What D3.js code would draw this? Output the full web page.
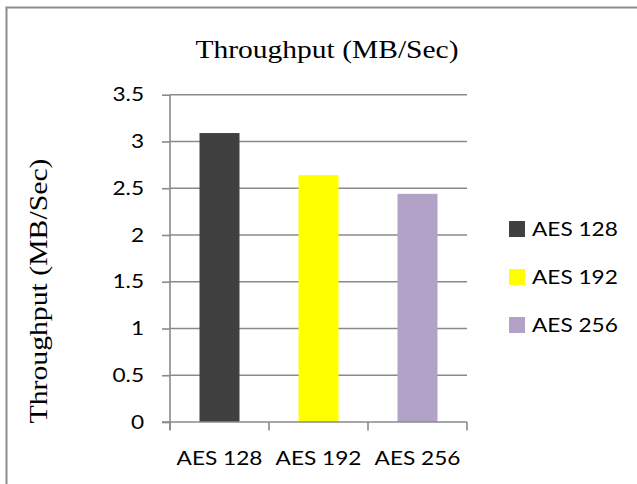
<!DOCTYPE html>
<html>
<head>
<meta charset="utf-8">
<script src="https://cdn.jsdelivr.net/npm/d3@7"></script>
<style>
  html, body { margin: 0; padding: 0; background: #fff; }
  svg { display: block; }
</style>
</head>
<body>
<svg id="chart" width="637" height="484"></svg>
<script>
// Throughput per AES key size
const categories = ["AES 128", "AES 192", "AES 256"];
const throughput = [3.09, 2.64, 2.44];
const barColors = ["#404040", "#FFFF00", "#B3A2C7"];
const yTicks = [0, 0.5, 1, 1.5, 2, 2.5, 3, 3.5];
const titleText = "Throughput (MB/Sec)";
const yAxisTitle = "Throughput (MB/Sec)";

const svg = d3.select("#chart");
const W = 637, H = 484;
const plot = { left: 170, right: 467, top: 94.7, bottom: 422 };
const gridColor = "#8a8a8a";
const tickFont = "Lato, 'Open Sans', sans-serif";
const serif = "'Liberation Serif', 'Times New Roman', serif";
const labelSize = 19.5;
const stretch = 1.16; // the labels are set a little wide

// widen a text element horizontally around its anchor
function widen(sel, k) {
  sel.each(function () {
    const len = this.getComputedTextLength();
    d3.select(this).attr("textLength", len * k).attr("lengthAdjust", "spacingAndGlyphs");
  });
}

svg.append("rect").attr("width", W).attr("height", H).attr("fill", "#fff");

// outer frame (extends past the right/bottom edges)
svg.append("rect")
  .attr("x", 6.5).attr("y", 7.5)
  .attr("width", W + 20).attr("height", H + 20)
  .attr("fill", "none").attr("stroke", "#8c8c8c").attr("stroke-width", 2);

const x = d3.scaleBand().domain(categories).range([plot.left, plot.right]).paddingInner(0).paddingOuter(0);
const y = d3.scaleLinear().domain([0, 3.5]).range([plot.bottom, plot.top]);

// horizontal gridlines
svg.append("g").selectAll("line").data(yTicks.filter(d => d > 0)).join("line")
  .attr("x1", plot.left).attr("x2", plot.right)
  .attr("y1", d => y(d)).attr("y2", d => y(d))
  .attr("stroke", gridColor).attr("stroke-width", 1.6);

// bars
const barW = 40;
svg.append("g").selectAll("rect").data(categories).join("rect")
  .attr("x", d => x(d) + x.bandwidth() / 2 - barW / 2)
  .attr("width", barW)
  .attr("y", (d, i) => y(throughput[i]))
  .attr("height", (d, i) => y(0) - y(throughput[i]))
  .attr("fill", (d, i) => barColors[i]);

// y axis
const yAxis = d3.axisLeft(y).tickValues(yTicks).tickSize(8).tickPadding(18)
  .tickFormat(d => d3.format("")(d));
const gy = svg.append("g").attr("transform", `translate(${plot.left},0)`).call(yAxis);
gy.select(".domain").attr("stroke", gridColor).attr("stroke-width", 1.6)
  .attr("d", `M0,${plot.top}V${plot.bottom + 8}`);
gy.selectAll(".tick line").attr("stroke", gridColor).attr("stroke-width", 1.6);
gy.selectAll(".tick text").attr("font-family", tickFont).attr("font-size", labelSize)
  .attr("fill", "#000").call(widen, stretch);

// x axis
const xAxis = d3.axisBottom(x).tickSize(0).tickPadding(29);
const gx = svg.append("g").attr("transform", `translate(0,${plot.bottom})`).call(xAxis);
gx.select(".domain").attr("stroke", gridColor).attr("stroke-width", 1.6)
  .attr("d", `M${plot.left - 8},0H${plot.right}`);
gx.selectAll(".tick text").attr("font-family", tickFont).attr("font-size", labelSize)
  .attr("fill", "#000").call(widen, stretch);
// category boundary ticks
const bounds = categories.map(c => x(c)).concat([plot.right]);
gx.append("g").selectAll("line").data(bounds).join("line")
  .attr("x1", d => d).attr("x2", d => d).attr("y1", 0).attr("y2", 8.5)
  .attr("stroke", gridColor).attr("stroke-width", 1.6);

// chart title
svg.append("text")
  .attr("x", 327).attr("y", 58)
  .attr("text-anchor", "middle")
  .attr("font-family", serif).attr("font-size", 25)
  .attr("fill", "#000")
  .text(titleText)
  .attr("textLength", 263).attr("lengthAdjust", "spacingAndGlyphs");

// y axis title
svg.append("text")
  .attr("transform", `translate(47,291) rotate(-90)`)
  .attr("text-anchor", "middle")
  .attr("font-family", serif).attr("font-size", 25)
  .attr("fill", "#000")
  .text(yAxisTitle)
  .attr("textLength", 265).attr("lengthAdjust", "spacingAndGlyphs");

// legend
const legend = svg.append("g").selectAll("g").data(categories).join("g")
  .attr("transform", (d, i) => `translate(509,${229 + i * 48})`);
legend.append("rect").attr("x", 0).attr("y", -8).attr("width", 16).attr("height", 16)
  .attr("fill", (d, i) => barColors[i]);
legend.append("text").attr("x", 23).attr("y", 0).attr("dy", "0.36em")
  .attr("font-family", tickFont).attr("font-size", labelSize).attr("fill", "#000")
  .text(d => d).call(widen, stretch);
</script>
</body>
</html>
